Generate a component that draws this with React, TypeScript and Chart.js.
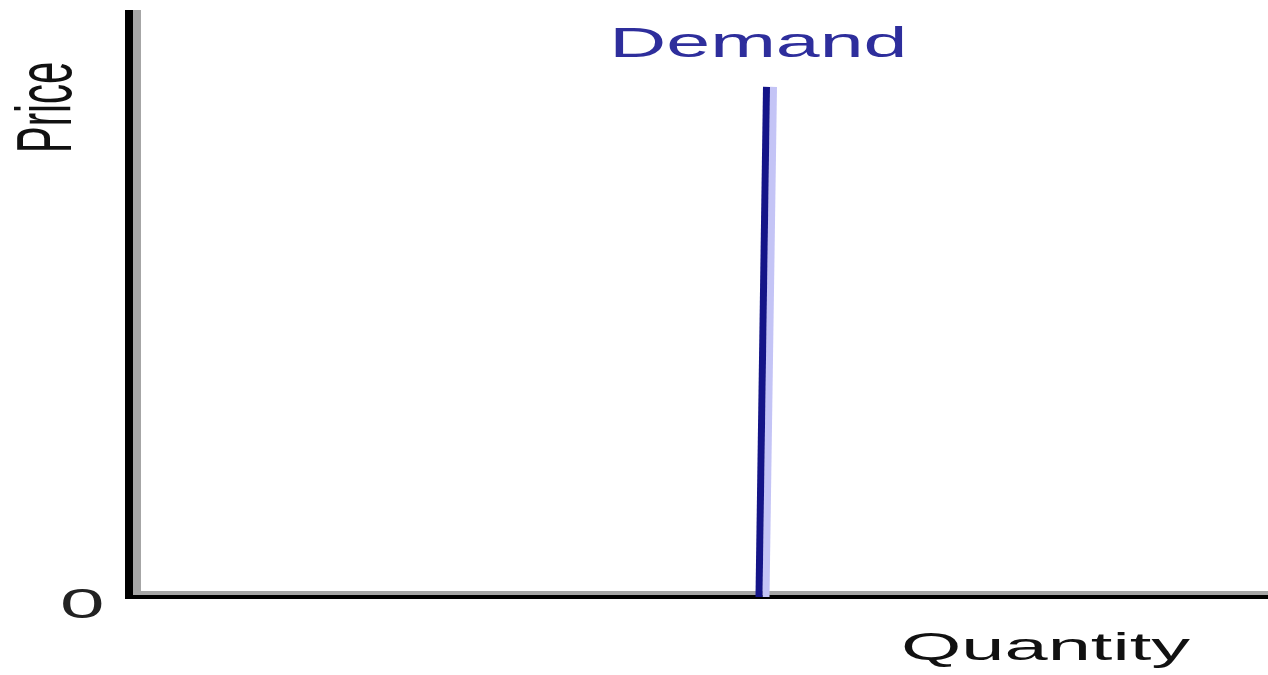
import React, { useEffect, useRef } from "react";
import { Chart, registerables } from "chart.js";

Chart.register(...registerables);

// ---- data ----
const demandQuantity = [55.31, 55.97];
const demandPrice = [0, 86.9];
const seriesLabel = "Demand";
const xAxisTitle = "Quantity";
const yAxisTitle = "Price";
const originLabel = "0";
const xRange = [0, 100];
const yRange = [0, 100];

const FONT = "'Liberation Sans', Arial, sans-serif";

function drawStretched(
  ctx: CanvasRenderingContext2D,
  text: string,
  left: number,
  baseline: number,
  size: number,
  inkWidth: number,
  color: string
) {
  ctx.save();
  ctx.font = `${size}px ${FONT}`;
  ctx.textAlign = "left";
  ctx.textBaseline = "alphabetic";
  const m = ctx.measureText(text);
  const w = m.actualBoundingBoxLeft + m.actualBoundingBoxRight;
  ctx.translate(left, baseline);
  ctx.scale(inkWidth / w, 1);
  ctx.fillStyle = color;
  ctx.fillText(text, m.actualBoundingBoxLeft, 0);
  ctx.restore();
}

function drawRotated(
  ctx: CanvasRenderingContext2D,
  text: string,
  baselineX: number,
  bottomY: number,
  size: number,
  inkLength: number,
  heightScale: number,
  color: string
) {
  ctx.save();
  ctx.font = `${size}px ${FONT}`;
  ctx.textAlign = "left";
  ctx.textBaseline = "alphabetic";
  const m = ctx.measureText(text);
  const w = m.actualBoundingBoxLeft + m.actualBoundingBoxRight;
  ctx.translate(baselineX, bottomY);
  ctx.scale(heightScale, inkLength / w);
  ctx.rotate(-Math.PI / 2);
  ctx.fillStyle = color;
  ctx.fillText(text, m.actualBoundingBoxLeft, 0);
  ctx.restore();
}

const axesPlugin = {
  id: "econAxes",
  beforeDatasetsDraw(chart: any) {
    const { ctx, chartArea } = chart;
    const { left, right, top, bottom } = chartArea;
    ctx.save();
    ctx.lineCap = "butt";
    // y axis: gray shade then black
    ctx.strokeStyle = "#a6a6a6";
    ctx.lineWidth = 8;
    ctx.beginPath();
    ctx.moveTo(left + 8, top);
    ctx.lineTo(left + 8, bottom - 4);
    ctx.stroke();
    // x axis gray shade above
    ctx.lineWidth = 4;
    ctx.beginPath();
    ctx.moveTo(left, bottom - 4);
    ctx.lineTo(right, bottom - 4);
    ctx.stroke();
    ctx.strokeStyle = "#000";
    ctx.lineWidth = 8;
    ctx.beginPath();
    ctx.moveTo(left, top);
    ctx.lineTo(left, bottom + 2);
    ctx.stroke();
    ctx.lineWidth = 4;
    ctx.beginPath();
    ctx.moveTo(left - 4, bottom);
    ctx.lineTo(right, bottom);
    ctx.stroke();
    ctx.restore();
  },
  beforeDatasetDraw(chart: any, args: any) {
    if (args.index === 0) {
      const ctx = chart.ctx;
      ctx.save();
      ctx.shadowColor = "rgba(196,196,246,1)";
      ctx.shadowOffsetX = 7;
      ctx.shadowOffsetY = 0;
      ctx.shadowBlur = 0;
    }
  },
  afterDatasetDraw(chart: any, args: any) {
    if (args.index === 0) chart.ctx.restore();
  },
  afterDraw(chart: any) {
    const { ctx, chartArea, scales } = chart;
    const xPix = scales.x.getPixelForValue(demandQuantity[0]);
    // Demand label centred over the curve
    drawStretched(ctx, seriesLabel, xPix - 144, 57, 42, 288, "#2e2e9c");
    // Quantity axis title
    drawStretched(ctx, xAxisTitle, 903, 660, 38, 287, "#111");
    // origin label
    drawStretched(ctx, originLabel, 62, chartArea.bottom + 21, 42, 40, "#222");
    // Price axis title (rotated)
    drawRotated(ctx, yAxisTitle, 71, 150, 40, 87, 1.95, "#111");
  },
};

export default function App() {
  const ref = useRef<HTMLCanvasElement | null>(null);
  useEffect(() => {
    if (!ref.current) return;
    const chart = new Chart(ref.current, {
      type: "line",
      data: {
        datasets: [
          {
            label: seriesLabel,
            data: demandQuantity.map((q, i) => ({ x: q, y: demandPrice[i] })),
            borderColor: "#141488",
            borderWidth: 7,
            borderCapStyle: "butt",
            pointRadius: 0,
            fill: false,
            tension: 0,
          },
        ],
      },
      options: {
        animation: false,
        responsive: true,
        maintainAspectRatio: false,
        layout: { padding: { left: 129, top: 10, right: 0, bottom: 78 } },
        plugins: {
          legend: { display: false },
          tooltip: { enabled: false },
        },
        scales: {
          x: { type: "linear", min: xRange[0], max: xRange[1], display: false },
          y: { type: "linear", min: yRange[0], max: yRange[1], display: false },
        },
      },
      plugins: [axesPlugin],
    } as any);
    return () => chart.destroy();
  }, []);
  return (
    <div
      style={{
        position: "absolute",
        left: 0,
        top: 0,
        width: 1268,
        height: 675,
        background: "#fff",
      }}
    >
      <canvas ref={ref} />
    </div>
  );
}
